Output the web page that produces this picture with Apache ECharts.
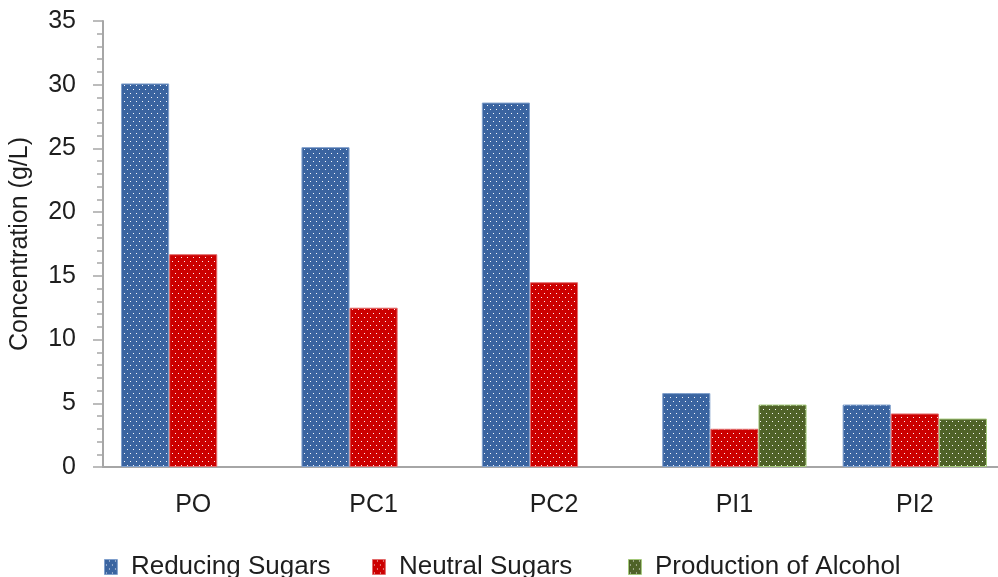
<!DOCTYPE html>
<html>
<head>
<meta charset="utf-8">
<style>
  html, body { margin: 0; padding: 0; background: #fff; }
  #chart { width: 998px; height: 577px; }
</style>
<script src="https://cdn.jsdelivr.net/npm/echarts@6/dist/echarts.min.js"></script>
</head>
<body>
<div id="chart"></div>
<script>
const categories = ["PO", "PC1", "PC2", "PI1", "PI2"];
const reducingSugars = [30.1, 25.1, 28.6, 5.8, 4.9];
const neutralSugars = [16.7, 12.5, 14.5, 3.0, 4.2];
const alcohol = [null, null, null, 4.9, 3.8];
const seriesNames = ["Reducing Sugars", "Neutral Sugars", "Production of Alcohol"];

const font = "'Liberation Sans', Arial, sans-serif";
const textColor = "#1e1e1e";

// small dotted texture like the office-style fill
const dotted = (base) => {
  const c = document.createElement("canvas");
  c.width = 6;
  c.height = 8;
  const ctx = c.getContext("2d");
  ctx.fillStyle = base;
  ctx.fillRect(0, 0, 6, 8);
  ctx.fillStyle = "rgba(255,255,255,0.95)";
  ctx.fillRect(1, 1, 1, 1);
  ctx.fillRect(4, 5, 1, 1);
  return { image: c, repeat: "repeat" };
};

const colors = ["#3a64a0", "#cc0000", "#4f6228"];
const borders = ["#7f9fcc", "#e26a6a", "#a4c97a"];
const legendLeft = [99, 367, 623];

const myChart = echarts.init(document.getElementById("chart"));

const barSeries = (name, data, i) => ({
  name,
  type: "bar",
  data,
  barGap: "0%",
  barCategoryGap: "20%",
  itemStyle: { color: dotted(colors[i]), borderColor: borders[i], borderWidth: 1 },
  animation: false
});

myChart.setOption({
  color: colors,
  grid: { left: 103, top: 21, right: -7, bottom: 110, containLabel: false, outerBoundsMode: "none" },
  legend: seriesNames.map((n, i) => ({
    left: legendLeft[i],
    top: 549,
    itemWidth: 30,
    itemHeight: 15,
    icon: "path://M0,0h12v14h-12z",
    textStyle: { fontFamily: font, fontSize: 26, color: textColor },
    data: [{ name: n, itemStyle: { color: dotted(colors[i]), borderColor: borders[i], borderWidth: 1 } }]
  })),
  xAxis: {
    type: "category",
    data: categories,
    axisLine: { lineStyle: { color: "#a6a6a6", width: 2 } },
    axisTick: { show: false },
    axisLabel: { margin: 26, fontFamily: font, fontSize: 25, color: textColor }
  },
  yAxis: {
    type: "value",
    min: 0,
    max: 35,
    interval: 5,
    name: "Concentration (g/L)",
    nameLocation: "middle",
    nameGap: 70,
    nameTextStyle: { fontFamily: font, fontSize: 25, color: textColor },
    axisLine: { show: true, lineStyle: { color: "#a6a6a6", width: 2 } },
    axisTick: { show: true, length: 10, lineStyle: { color: "#a6a6a6", width: 1.5 } },
    minorTick: { show: true, splitNumber: 5, length: 6, lineStyle: { color: "#a6a6a6", width: 1.5 } },
    splitLine: { show: false },
    axisLabel: { margin: 27, fontFamily: font, fontSize: 25, color: textColor }
  },
  series: [
    barSeries(seriesNames[0], reducingSugars, 0),
    barSeries(seriesNames[1], neutralSugars, 1),
    barSeries(seriesNames[2], alcohol, 2)
  ]
});
</script>
</body>
</html>
